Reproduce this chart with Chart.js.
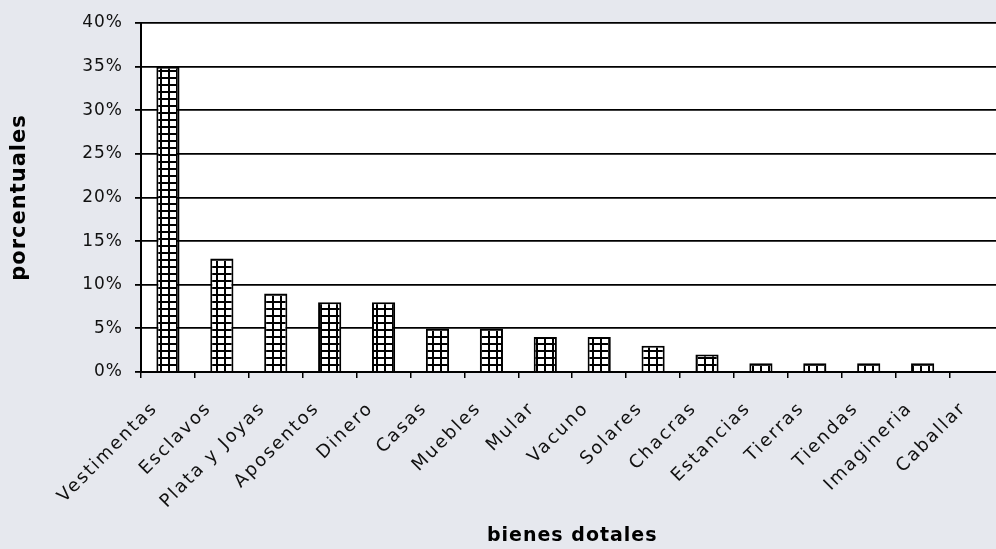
<!DOCTYPE html>
<html>
<head>
<meta charset="utf-8">
<script src="https://cdn.jsdelivr.net/npm/chart.js@4"></script>
<style>
  html, body { margin: 0; padding: 0; background: #e6e8ee; overflow: hidden; }
  #wrap { width: 1012px; height: 549px; position: relative; }
</style>
</head>
<body>
<div id="wrap"><canvas id="dotesChart"></canvas></div>
<script>
const categories = ['Vestimentas', 'Esclavos', 'Plata y Joyas', 'Aposentos', 'Dinero', 'Casas', 'Muebles',
    'Mular', 'Vacuno', 'Solares', 'Chacras', 'Estancias', 'Tierras', 'Tiendas', 'Imagineria', 'Caballar'];
const shares = [35, 13, 9, 8, 8, 5, 5, 4, 4, 3, 2, 1, 1, 1, 1, 0];
const yTicks = [0, 5, 10, 15, 20, 25, 30, 35, 40];

// grid hatch fill like the old spreadsheet pattern
function gridPattern() {
    const c = document.createElement('canvas');
    c.width = 8; c.height = 7;
    const g = c.getContext('2d');
    g.fillStyle = '#fff';
    g.fillRect(0, 0, 8, 7);
    g.fillStyle = '#000';
    g.fillRect(0, 0, 8, 2);
    g.fillRect(0, 0, 2, 7);
    return g.createPattern(c, 'repeat');
}

const plotBg = {
    id: 'plotBg',
    beforeUpdate(chart) { chart.ctx.letterSpacing = '1px'; },
    afterLayout(chart) {
        // wider spacing on the rotated category labels
        const s = chart.scales.x;
        if (s && !s._spaced) {
            const orig = s.drawLabels.bind(s);
            s.drawLabels = function (area) {
                chart.ctx.letterSpacing = '2px';
                orig(area);
                chart.ctx.letterSpacing = '1px';
            };
            s._spaced = true;
        }
    },
    beforeDraw(chart) {
        const a = chart.chartArea, ctx = chart.ctx;
        ctx.letterSpacing = '1px';
        ctx.save();
        ctx.fillStyle = '#fff';
        ctx.fillRect(a.left, a.top, a.right - a.left, a.bottom - a.top);
        ctx.restore();
    }
};

const ctx = document.getElementById('dotesChart').getContext('2d');
new Chart(ctx, {
    type: 'bar',
    data: {
        labels: categories,
        datasets: [{
            label: 'bienes dotales',
            data: shares,
            backgroundColor: gridPattern(),
            borderColor: '#000',
            borderWidth: 2,
            categoryPercentage: 1,
            barPercentage: 0.43
        }]
    },
    options: {
        responsive: true,
        maintainAspectRatio: false,
        animation: false,
        layout: { padding: { left: 0, top: 23, right: 6, bottom: 0 } },
        scales: {
            x: {
                grid: { display: true, drawOnChartArea: false, color: '#000', lineWidth: 1.5, tickLength: 6, offset: true },
                border: { color: '#000', width: 2 },
                ticks: {
                    color: '#111',
                    font: { family: 'DejaVu Sans', size: 18 },
                    maxRotation: 45, minRotation: 45,
                    autoSkip: false,
                    padding: 20,
                    labelOffset: -13
                },
                title: {
                    display: true, text: 'bienes dotales', color: '#000',
                    font: { family: 'DejaVu Sans', size: 19, weight: 'bold' },
                    padding: { top: 0, bottom: 2 }
                },
                afterFit(s) { s.height = 177; }
            },
            y: {
                min: 0, max: 40,
                afterBuildTicks(s) { s.ticks = yTicks.map(v => ({ value: v })); },
                grid: { color: '#000', lineWidth: 1.8, tickLength: 6 },
                border: { color: '#000', width: 2 },
                ticks: {
                    color: '#111',
                    font: { family: 'DejaVu Sans', size: 17 },
                    padding: 12,
                    callback: v => v + '%'
                },
                title: {
                    display: true, text: 'porcentuales', color: '#000',
                    font: { family: 'DejaVu Sans', size: 21, weight: 'bold' },
                    padding: { top: 7, bottom: 0 }
                },
                afterFit(s) { s.width = 141; }
            }
        },
        plugins: {
            legend: { display: false },
            tooltip: { enabled: false }
        }
    },
    plugins: [plotBg]
});
</script>
</body>
</html>
